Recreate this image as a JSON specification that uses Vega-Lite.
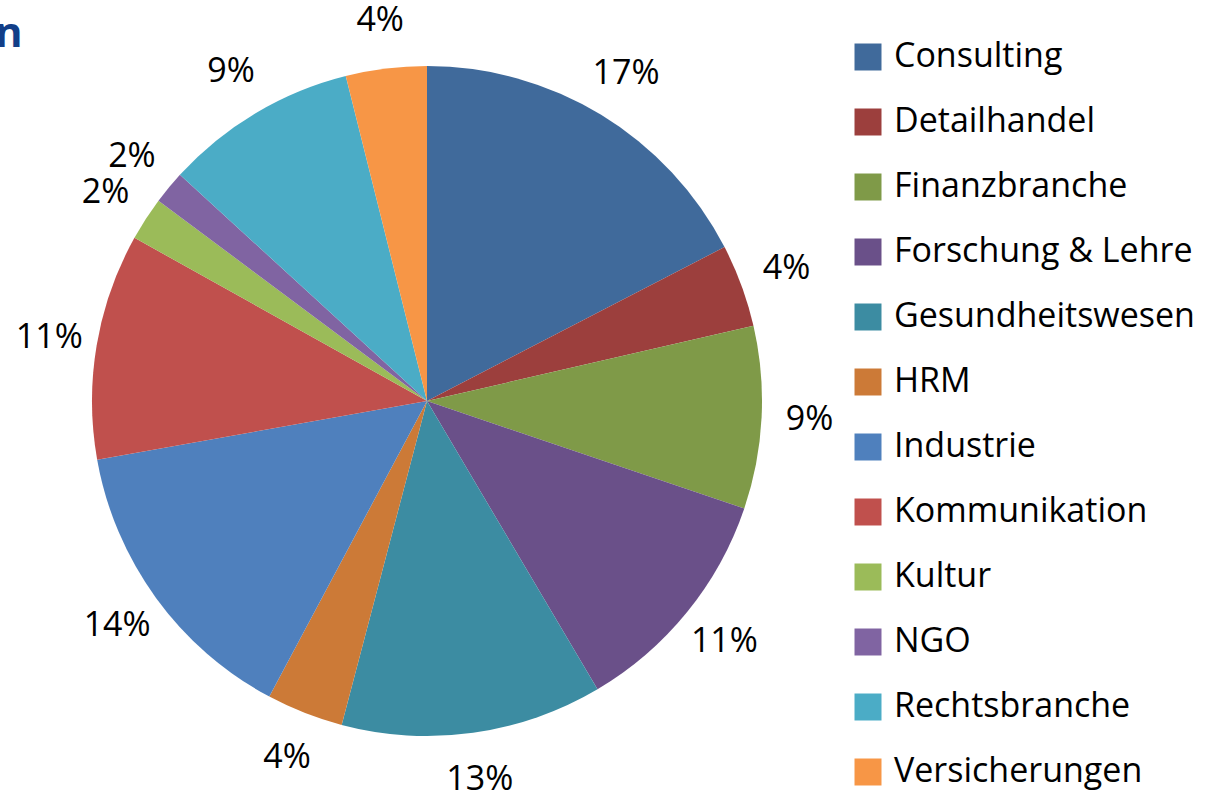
{
  "$schema": "https://vega.github.io/schema/vega-lite/v6.json",
  "width": 854,
  "height": 802,
  "autosize": {"type": "none"},
  "padding": {"left": 0, "top": 0, "right": 359, "bottom": 0},
  "background": "white",
  "title": {"text": "n", "anchor": "start", "frame": "group", "orient": "top", "offset": -56, "fontSize": 42, "font": "Open Sans", "fontWeight": "bold", "color": "#123E88", "dx": -5},
  "data": {
    "values": [
      {"branche": "Consulting", "anteil": 0.174, "idx": 1},
      {"branche": "Detailhandel", "anteil": 0.040, "idx": 2},
      {"branche": "Finanzbranche", "anteil": 0.088, "idx": 3},
      {"branche": "Forschung & Lehre", "anteil": 0.113, "idx": 4},
      {"branche": "Gesundheitswesen", "anteil": 0.126, "idx": 5},
      {"branche": "HRM", "anteil": 0.037, "idx": 6},
      {"branche": "Industrie", "anteil": 0.144, "idx": 7},
      {"branche": "Kommunikation", "anteil": 0.109, "idx": 8},
      {"branche": "Kultur", "anteil": 0.021, "idx": 9},
      {"branche": "NGO", "anteil": 0.016, "idx": 10},
      {"branche": "Rechtsbranche", "anteil": 0.093, "idx": 11},
      {"branche": "Versicherungen", "anteil": 0.039, "idx": 12}
    ]
  },
  "encoding": {
    "theta": {"field": "anteil", "type": "quantitative", "stack": true},
    "order": {"field": "idx", "type": "quantitative"},
    "color": {
      "field": "branche",
      "type": "nominal",
      "sort": null,
      "scale": {
        "domain": ["Consulting", "Detailhandel", "Finanzbranche", "Forschung & Lehre", "Gesundheitswesen", "HRM", "Industrie", "Kommunikation", "Kultur", "NGO", "Rechtsbranche", "Versicherungen"],
        "range": ["#406A9B", "#9C3F3D", "#7F9A48", "#6A5089", "#3C8CA2", "#CC7A37", "#4F80BD", "#C0504D", "#9BBB59", "#8064A2", "#4BACC6", "#F79646"]
      },
      "legend": {
        "title": null,
        "orient": "none",
        "legendX": 851,
        "legendY": 40,
        "symbolType": "square",
        "symbolSize": 729,
        "symbolStrokeWidth": 0,
        "symbolOpacity": 1,
        "labelFont": "Open Sans",
        "labelFontSize": 34,
        "labelColor": "black",
        "labelLimit": 400,
        "labelOffset": 9,
        "rowPadding": 31,
        "symbolOffset": 0
      }
    }
  },
  "layer": [
    {"mark": {"type": "arc", "outerRadius": 335}},
    {
      "mark": {"type": "text", "radius": 383, "font": "Open Sans", "fontSize": 34, "color": "black"},
      "encoding": {"text": {"field": "anteil", "type": "quantitative", "format": ".0%"}, "color": {"value": "black"}}
    }
  ],
  "config": {"view": {"stroke": null}}
}
